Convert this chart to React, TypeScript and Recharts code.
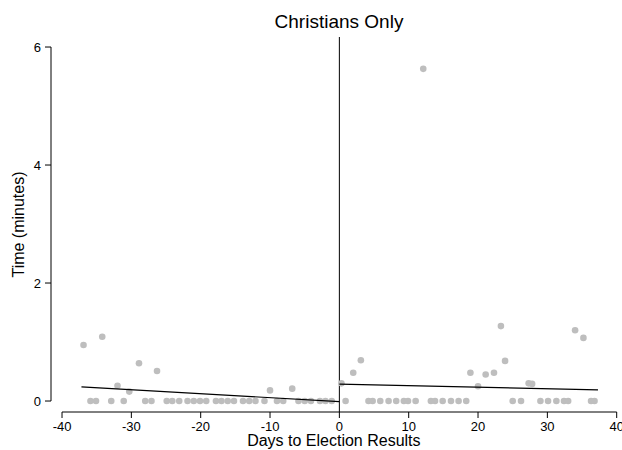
import React from "react";
import {
  ScatterChart,
  Scatter,
  XAxis,
  YAxis,
  ReferenceLine,
} from "recharts";

// days before (negative) / after (positive) the election results
const beforeDays = [
  -36.9, -35.9, -35.1, -34.2, -32.9, -32.0, -31.1, -30.3, -28.9, -28.0,
  -27.1, -26.3, -24.9, -24.1, -23.1, -21.9, -21.0, -20.1, -19.2, -17.8,
  -17.0, -16.1, -15.2, -13.9, -13.0, -12.1, -10.8, -10.0, -9.0, -8.1,
  -6.8, -5.9, -5.0, -4.1, -2.8, -2.0, -1.1,
];
const beforeTimes = [
  0.95, 0, 0, 1.09, 0, 0.26, 0, 0.16, 0.64, 0,
  0, 0.51, 0, 0, 0, 0, 0, 0, 0, 0,
  0, 0, 0, 0, 0, 0, 0, 0.18, 0, 0,
  0.21, 0, 0, 0, 0, 0, 0,
];

const afterDays = [
  0.3, 0.9, 2.0, 3.1, 4.2, 4.8, 5.9, 7.1, 8.2, 9.3,
  9.9, 11.0, 12.1, 13.2, 13.8, 14.9, 16.1, 17.2, 18.3, 18.9,
  20.0, 21.1, 22.3, 23.3, 23.9, 25.0, 26.2, 27.3, 27.8, 29.0,
  30.1, 31.3, 32.4, 33.0, 34.0, 35.2, 36.3, 36.8,
];
const afterTimes = [
  0.3, 0, 0.48, 0.69, 0, 0, 0, 0, 0, 0,
  0, 0, 5.63, 0, 0, 0, 0, 0, 0, 0.48,
  0.25, 0.45, 0.48, 1.27, 0.68, 0, 0, 0.3, 0.29, 0,
  0, 0, 0, 0, 1.2, 1.07, 0, 0,
];

// fitted lines (end points)
const beforeFitDays = [-37.2, 0];
const beforeFitTimes = [0.24, -0.01];
const afterFitDays = [0, 37.3];
const afterFitTimes = [0.285, 0.19];

const xTicks = [-40, -30, -20, -10, 0, 10, 20, 30, 40];
const yTicks = [0, 2, 4, 6];

const X_MIN = -41.59;
const Y_MIN = -0.186;

const toPoints = (xs: number[], ys: number[]) =>
  xs.map((x, i) => ({ x, y: ys[i] }));

const font = "'Liberation Sans', Arial, Helvetica, sans-serif";

const Dot = (props: any) => (
  <circle cx={props.cx} cy={props.cy} r={3.3} fill="#bebebe" />
);
const NoDot = () => <g />;

export default function App() {
  const before = toPoints(beforeDays, beforeTimes);
  const after = toPoints(afterDays, afterTimes);
  const beforeFit = toPoints(beforeFitDays, beforeFitTimes);
  const afterFit = toPoints(afterFitDays, afterFitTimes);

  return (
    <div
      style={{
        position: "absolute",
        left: 0,
        top: 0,
        width: 622,
        height: 450,
        background: "#fff",
        fontFamily: font,
      }}
    >
      <div
        style={{
          position: "absolute",
          left: 239,
          top: 12,
          width: 200,
          textAlign: "center",
          fontSize: 19,
          lineHeight: "19px",
          color: "#000",
        }}
      >
        Christians Only
      </div>
      <ScatterChart
        width={622}
        height={450}
        margin={{ top: 37, right: 5.3, bottom: 0, left: 0 }}
      >
        <XAxis
          type="number"
          dataKey="x"
          domain={[X_MIN, 40]}
          allowDataOverflow
          ticks={xTicks}
          interval={0}
          axisLine={false}
          tickLine={{ stroke: "#000" }}
          tickSize={6}
          tickMargin={4}
          height={38}
          tick={{ fontSize: 13, fill: "#000", fontFamily: font }}
          label={{
            value: "Days to Election Results",
            position: "insideBottom",
            offset: 4,
            fontSize: 16,
            fill: "#000",
            fontFamily: font,
          }}
        />
        <YAxis
          type="number"
          dataKey="y"
          domain={[Y_MIN, 6.17]}
          allowDataOverflow
          ticks={yTicks}
          interval={0}
          axisLine={false}
          tickLine={{ stroke: "#000" }}
          tickSize={6}
          tickMargin={4}
          width={51}
          tick={{ fontSize: 13, fill: "#000", fontFamily: font }}
          label={{
            value: "Time (minutes)",
            angle: -90,
            position: "insideLeft",
            offset: 18,
            fontSize: 16,
            fill: "#000",
            fontFamily: font,
            style: { textAnchor: "middle" },
          }}
        />
        <ReferenceLine
          segment={[
            { x: X_MIN, y: 0 },
            { x: X_MIN, y: 6 },
          ]}
          stroke="#000"
          ifOverflow="visible"
        />
        <ReferenceLine
          segment={[
            { x: -40, y: Y_MIN },
            { x: 40, y: Y_MIN },
          ]}
          stroke="#000"
          ifOverflow="visible"
        />
        <ReferenceLine x={0} stroke="#000" />
        <Scatter data={before} shape={Dot} isAnimationActive={false} />
        <Scatter data={after} shape={Dot} isAnimationActive={false} />
        <Scatter
          data={beforeFit}
          shape={NoDot}
          line={{ stroke: "#000", strokeWidth: 1.2 }}
          isAnimationActive={false}
        />
        <Scatter
          data={afterFit}
          shape={NoDot}
          line={{ stroke: "#000", strokeWidth: 1.2 }}
          isAnimationActive={false}
        />
      </ScatterChart>
    </div>
  );
}
